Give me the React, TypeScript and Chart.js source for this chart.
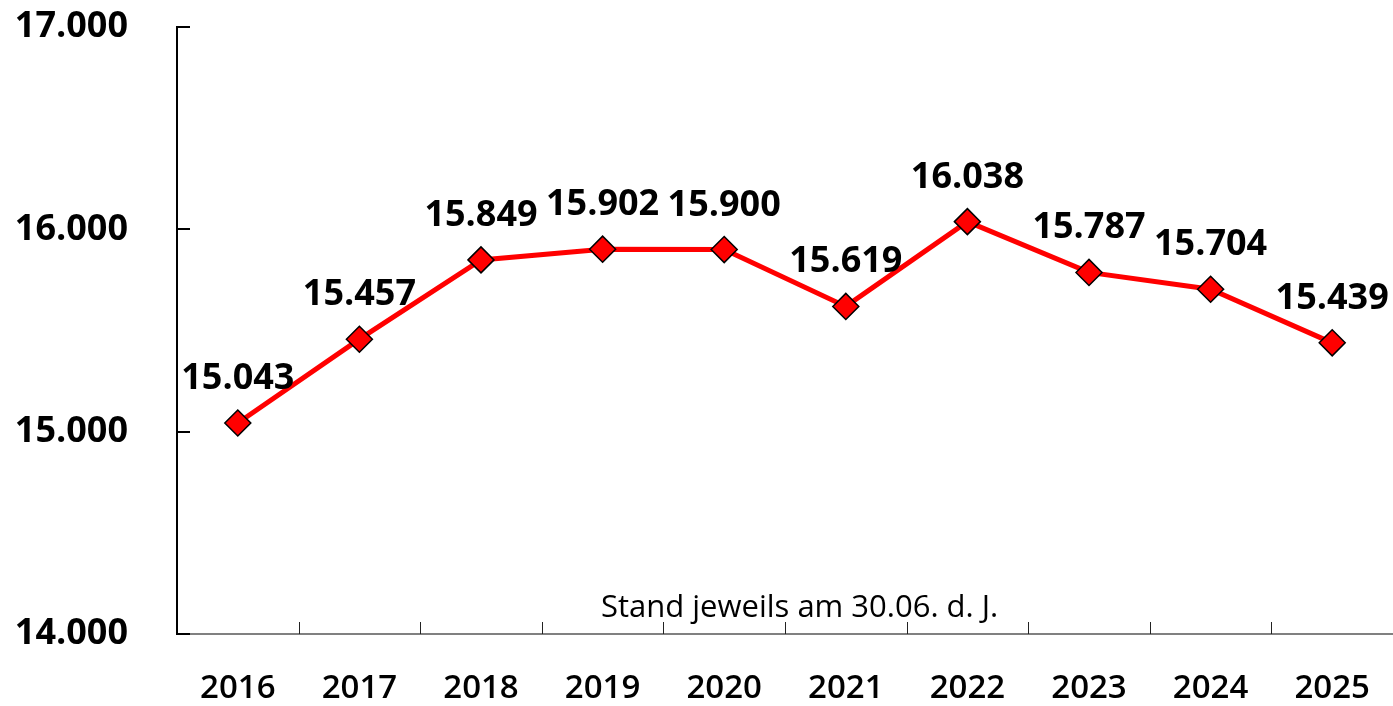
import React, { useEffect, useRef } from "react";
import { Chart, registerables } from "chart.js";

Chart.register(...registerables);

const years = ["2016", "2017", "2018", "2019", "2020", "2021", "2022", "2023", "2024", "2025"];
const values = [15043, 15457, 15849, 15902, 15900, 15619, 16038, 15787, 15704, 15439];
const yMin = 14000;
const yMax = 17000;
const yStep = 1000;
const footnote = "Stand jeweils am 30.06. d. J.";

const FONT = "'Open Sans', 'Noto Sans', sans-serif";

function fmt(n: number): string {
  return String(Math.round(n)).replace(/\B(?=(\d{3})+(?!\d))/g, ".");
}

function zeroPadding(scale: any) {
  scale.paddingTop = 0;
  scale.paddingBottom = 0;
  scale.paddingLeft = 0;
  scale.paddingRight = 0;
}

const decorPlugin = {
  id: "decor",
  afterDraw(chart: any) {
    const ctx = chart.ctx as CanvasRenderingContext2D;
    const area = chart.chartArea;
    const xs = chart.scales.x;
    const ys = chart.scales.y;
    ctx.save();
    // x ticks at category boundaries, pointing up
    ctx.strokeStyle = "#222";
    ctx.lineWidth = 1;
    const n = years.length;
    const step = n > 1 ? xs.getPixelForValue(1) - xs.getPixelForValue(0) : area.right - area.left;
    for (let i = 1; i < n; i++) {
      const px = Math.round(xs.getPixelForValue(i) - step / 2) + 0.5;
      ctx.beginPath();
      ctx.moveTo(px, area.bottom);
      ctx.lineTo(px, area.bottom - 12);
      ctx.stroke();
    }
    // y ticks pointing right
    ctx.strokeStyle = "#000";
    ctx.lineWidth = 2;
    for (let v = yMin; v <= yMax; v += yStep) {
      const py = Math.round(ys.getPixelForValue(v));
      ctx.beginPath();
      ctx.moveTo(area.left - 1, py);
      ctx.lineTo(area.left + 13, py);
      ctx.stroke();
    }
    // footnote
    ctx.fillStyle = "#000";
    ctx.font = `400 31px ${FONT}`;
    ctx.textAlign = "center";
    ctx.textBaseline = "alphabetic";
    ctx.fillText(footnote, area.left + (area.right - area.left) * 0.512, area.bottom - 17);
    // data labels
    const meta = chart.getDatasetMeta(0);
    ctx.font = `700 36px ${FONT}`;
    meta.data.forEach((pt: any, i: number) => {
      ctx.fillText(fmt(values[i]), pt.x, pt.y - 34);
    });
    ctx.restore();
  },
};

export default function App() {
  const ref = useRef<HTMLCanvasElement | null>(null);
  useEffect(() => {
    if (!ref.current) return;
    const chart = new Chart(ref.current, {
      type: "line",
      data: {
        labels: years,
        datasets: [
          {
            data: values,
            borderColor: "#ff0000",
            borderWidth: 5,
            tension: 0,
            clip: false,
            pointStyle: "rectRot",
            pointRadius: 13,
            pointHoverRadius: 13,
            pointBackgroundColor: "#ff0000",
            pointBorderColor: "#000",
            pointBorderWidth: 1.5,
          },
        ],
      },
      options: {
        animation: false,
        responsive: false,
        layout: { autoPadding: false, padding: { top: 27, left: 0, right: 0, bottom: 0 } },
        plugins: { legend: { display: false }, tooltip: { enabled: false } },
        scales: {
          x: {
            type: "category",
            offset: true,
            grid: { display: false, drawTicks: false },
            border: { display: true, color: "#808080", width: 2 },
            ticks: {
              color: "#000",
              font: { family: FONT, size: 33, weight: "600" },
              padding: 35,
              maxRotation: 0,
              autoSkip: false,
            },
            afterFit(scale: any) {
              scale.height = 72;
              zeroPadding(scale);
            },
          },
          y: {
            min: yMin,
            max: yMax,
            grid: { display: false, drawTicks: false },
            border: { display: true, color: "#000", width: 2 },
            ticks: {
              stepSize: yStep,
              color: "#000",
              font: { family: FONT, size: 36, weight: "700" },
              padding: 49,
              callback: (v: any) => fmt(Number(v)),
            },
            afterFit(scale: any) {
              scale.width = 177;
              zeroPadding(scale);
            },
          },
        },
      },
      plugins: [decorPlugin],
    } as any);
    return () => chart.destroy();
  }, []);
  return (
    <div style={{ position: "absolute", left: 0, top: 0, width: 1393, height: 706, background: "#fff" }}>
      <canvas ref={ref} width={1393} height={706} style={{ display: "block" }} />
    </div>
  );
}
